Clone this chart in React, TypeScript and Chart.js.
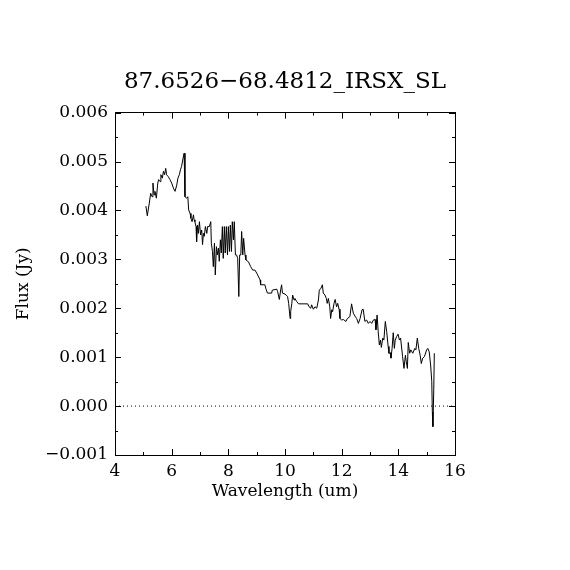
import React, { useEffect, useRef } from "react";
import { Chart, registerables } from "chart.js";

Chart.register(...registerables);

const TITLE = "87.6526\u221268.4812_IRSX_SL";
const X_TITLE = "Wavelength (um)";
const Y_TITLE = "Flux (Jy)";

const wavelength = [
  5.09, 5.14, 5.21, 5.26, 5.31, 5.34, 5.38, 5.41, 5.46, 5.51, 5.54, 5.59, 5.62, 5.67, 5.71, 5.75, 5.79, 5.82, 5.88, 5.94,
  6.0, 6.06, 6.12, 6.18, 6.22, 6.27, 6.31, 6.35, 6.39, 6.44, 6.47, 6.53, 6.57, 6.6, 6.65, 6.68, 6.72, 6.77, 6.79, 6.82,
  6.86, 6.88, 6.91, 6.94, 6.98, 7.02, 7.06, 7.09, 7.12, 7.15, 7.19, 7.24, 7.27, 7.33, 7.38, 7.4, 7.44, 7.47, 7.51, 7.54,
  7.58, 7.61, 7.65, 7.68, 7.72, 7.75, 7.79, 7.82, 7.86, 7.89, 7.93, 7.97, 8.0, 8.04, 8.07, 8.11, 8.14, 8.18, 8.21, 8.25,
  8.29, 8.33, 8.37, 8.4, 8.44, 8.47, 8.51, 8.54, 8.59, 8.62, 8.71, 8.79, 8.86, 8.94, 9.02, 9.12, 9.14, 9.29, 9.33, 9.38,
  9.53, 9.55, 9.71, 9.74, 9.8, 9.85, 9.88, 9.91, 10.0, 10.04, 10.09, 10.13, 10.18, 10.2, 10.24, 10.27, 10.32, 10.35, 10.41, 10.48,
  10.8, 10.85, 10.91, 10.94, 11.0, 11.06, 11.12, 11.18, 11.21, 11.27, 11.32, 11.35, 11.41, 11.46, 11.49, 11.53, 11.58, 11.61, 11.65, 11.68,
  11.73, 11.77, 11.82, 11.86, 11.91, 11.94, 12.0, 12.06, 12.15, 12.2, 12.29, 12.35, 12.41, 12.47, 12.53, 12.59, 12.65, 12.72, 12.76, 12.82,
  12.88, 12.94, 13.0, 13.06, 13.12, 13.18, 13.21, 13.25, 13.29, 13.33, 13.37, 13.4, 13.45, 13.49, 13.54, 13.59, 13.64, 13.67, 13.72, 13.74,
  13.78, 13.82, 13.86, 13.89, 13.94, 13.99, 14.04, 14.08, 14.15, 14.2, 14.25, 14.28, 14.32, 14.35, 14.4, 14.44, 14.51, 14.58, 14.62, 14.67,
  14.72, 14.77, 14.81, 14.86, 14.92, 15.0, 15.04, 15.09, 15.14, 15.18, 15.2, 15.22, 15.25, 15.27,
];

const flux = [
  0.00409, 0.00389, 0.00415, 0.00435, 0.00428, 0.00456, 0.00432, 0.00439, 0.00425, 0.00456, 0.00463, 0.00459, 0.00473, 0.00466, 0.0048, 0.00473, 0.00486, 0.00473, 0.00469, 0.00463,
  0.00456, 0.00446, 0.00439, 0.00452, 0.00466, 0.00473, 0.00483, 0.0049, 0.00503, 0.00517, 0.00428, 0.00425, 0.00428, 0.00401, 0.00394, 0.00384, 0.00377, 0.00391, 0.00381, 0.00377,
  0.00367, 0.00336, 0.0037, 0.00353, 0.00377, 0.0035, 0.0036, 0.0033, 0.00353, 0.00347, 0.00367, 0.00353, 0.00367, 0.00367, 0.00377, 0.00333, 0.00316, 0.00285, 0.00333, 0.00268,
  0.00326, 0.00309, 0.00323, 0.00296, 0.0034, 0.00313, 0.00367, 0.00302, 0.00367, 0.00313, 0.00367, 0.00309, 0.00367, 0.00316, 0.0037, 0.00316, 0.00377, 0.0034, 0.00377, 0.00309,
  0.00309, 0.00302, 0.00224, 0.00309, 0.00309, 0.00357, 0.00309, 0.00343, 0.00309, 0.00299, 0.00295, 0.00285, 0.00278, 0.00278, 0.0027, 0.00258, 0.00248, 0.00248, 0.00239, 0.00231,
  0.00231, 0.00237, 0.00239, 0.00234, 0.00218, 0.00239, 0.00248, 0.00231, 0.00229, 0.00227, 0.00224, 0.0021, 0.00179, 0.00193, 0.0021, 0.00227, 0.00217, 0.0022, 0.00214, 0.00209,
  0.00209, 0.00203, 0.002, 0.00207, 0.00198, 0.00203, 0.002, 0.00217, 0.00237, 0.00241, 0.00248, 0.00231, 0.00227, 0.0022, 0.0021, 0.0022, 0.00203, 0.00179, 0.00197, 0.00193,
  0.0021, 0.00218, 0.00203, 0.0021, 0.00198, 0.00179, 0.00176, 0.00177, 0.00173, 0.00179, 0.00183, 0.00209, 0.0019, 0.00184, 0.00179, 0.00169, 0.00179, 0.00197, 0.00198, 0.00173,
  0.00176, 0.00169, 0.00173, 0.00169, 0.00176, 0.00177, 0.00156, 0.00186, 0.00152, 0.00125, 0.00135, 0.0012, 0.00139, 0.00135, 0.00173, 0.00152, 0.00122, 0.00108, 0.00109, 0.00098,
  0.00118, 0.0015, 0.00118, 0.00135, 0.00142, 0.00147, 0.00135, 0.00139, 0.00101, 0.00077, 0.00104, 0.00091, 0.00077, 0.0013, 0.00108, 0.00115, 0.00108, 0.00118, 0.00115, 0.00139,
  0.00118, 0.00104, 0.00087, 0.00098, 0.00101, 0.00115, 0.00118, 0.00111, 0.00084, 0.0005, -0.00012, -0.00042, 0.00033, 0.00108,
];

const xTickValues = [4, 6, 8, 10, 12, 14, 16];
const xTickLabels = ["4", "6", "8", "10", "12", "14", "16"];
const xMinorValues = [5, 7, 9, 11, 13, 15];
const yTickValues = [-0.001, 0, 0.001, 0.002, 0.003, 0.004, 0.005, 0.006];
const yTickLabels = ["\u22120.001", "0.000", "0.001", "0.002", "0.003", "0.004", "0.005", "0.006"];
const yMinorValues = [-0.0005, 0.0005, 0.0015, 0.0025, 0.0035, 0.0045, 0.0055];
const zeroLineX = [4, 16];
const zeroLineY = [0, 0];

const FONT = "'DejaVu Serif', serif";

const inwardTicks = {
  id: "inwardTicks",
  afterDatasetsDraw(chart: any) {
    const { ctx, chartArea: a, scales } = chart;
    const x = scales.x;
    const y = scales.y;
    ctx.save();
    ctx.strokeStyle = "#000";
    ctx.lineWidth = 1;
    ctx.beginPath();
    const major = 6;
    const minor = 3;
    const xs = [
      ...xTickValues.map((v) => [v, major]),
      ...xMinorValues.map((v) => [v, minor]),
    ];
    for (const [v, len] of xs) {
      const px = Math.round(x.getPixelForValue(v)) + 0.5;
      ctx.moveTo(px, a.bottom);
      ctx.lineTo(px, a.bottom - len);
      ctx.moveTo(px, a.top);
      ctx.lineTo(px, a.top + len);
    }
    const ys = [
      ...yTickValues.map((v) => [v, major]),
      ...yMinorValues.map((v) => [v, minor]),
    ];
    for (const [v, len] of ys) {
      const py = Math.round(y.getPixelForValue(v)) + 0.5;
      ctx.moveTo(a.left, py);
      ctx.lineTo(a.left + len, py);
      ctx.moveTo(a.right, py);
      ctx.lineTo(a.right - len, py);
    }
    ctx.stroke();
    ctx.restore();
  },
};

export default function App() {
  const ref = useRef<HTMLCanvasElement | null>(null);

  useEffect(() => {
    if (!ref.current) return;
    const chart = new Chart(ref.current, {
      type: "line",
      data: {
        datasets: [
          {
            data: wavelength.map((w, i) => ({ x: w, y: flux[i] })),
            borderColor: "#000",
            borderWidth: 1,
            pointRadius: 0,
            tension: 0,
            fill: false,
          },
          {
            data: zeroLineX.map((w, i) => ({ x: w, y: zeroLineY[i] })),
            borderColor: "#000",
            borderWidth: 1,
            borderDash: [1, 3],
            pointRadius: 0,
            fill: false,
          },
        ],
      },
      options: {
        animation: false,
        responsive: false,
        devicePixelRatio: 1,
        layout: { padding: 0 },
        plugins: {
          legend: { display: false },
          tooltip: { enabled: false },
          title: {
            display: true,
            text: TITLE,
            color: "#000",
            font: { family: FONT, size: 23, weight: "normal" },
            padding: { top: 68, bottom: 17 },
          },
        },
        scales: {
          x: {
            type: "linear",
            position: "bottom",
            min: 4,
            max: 16,
            afterFit: (s: any) => {
              s.height = 115;
            },
            afterBuildTicks: (s: any) => {
              s.ticks = xTickValues.map((v) => ({ value: v }));
            },
            ticks: {
              color: "#000",
              font: { family: FONT, size: 17 },
              padding: 6,
              maxRotation: 0,
              autoSkip: false,
              callback: (v: any) => xTickLabels[xTickValues.indexOf(Number(v))] ?? "",
            },
            grid: { display: false, drawTicks: false },
            border: { display: true, color: "#000", width: 1 },
            title: {
              display: true,
              text: X_TITLE,
              color: "#000",
              font: { family: FONT, size: 17 },
              padding: { top: 0, bottom: 68 },
            },
          },
          x2: {
            type: "linear",
            position: "top",
            min: 4,
            max: 16,
            afterFit: (s: any) => {
              s.height = 0;
            },
            ticks: { display: false },
            grid: { display: false, drawTicks: false },
            border: { display: true, color: "#000", width: 1 },
          },
          y: {
            type: "linear",
            position: "left",
            min: -0.001,
            max: 0.006,
            afterFit: (s: any) => {
              s.width = 115;
            },
            afterBuildTicks: (s: any) => {
              s.ticks = yTickValues.map((v) => ({ value: v }));
            },
            ticks: {
              color: "#000",
              font: { family: FONT, size: 17 },
              padding: 7,
              autoSkip: false,
              callback: (_v: any, i: number) => yTickLabels[i] ?? "",
            },
            grid: { display: false, drawTicks: false },
            border: { display: true, color: "#000", width: 1 },
            title: {
              display: true,
              text: Y_TITLE,
              color: "#000",
              font: { family: FONT, size: 17 },
              padding: { top: 13, bottom: 0 },
            },
          },
          y2: {
            type: "linear",
            position: "right",
            min: -0.001,
            max: 0.006,
            afterFit: (s: any) => {
              s.width = 115;
            },
            ticks: { display: false },
            grid: { display: false, drawTicks: false },
            border: { display: true, color: "#000", width: 1 },
          },
        },
      },
      plugins: [inwardTicks],
    });
    return () => chart.destroy();
  }, []);

  return (
    <div style={{ position: "absolute", left: 0, top: 0, width: 570, height: 570, background: "#fff" }}>
      <canvas ref={ref} width={570} height={570} style={{ width: 570, height: 570, display: "block" }} />
    </div>
  );
}
